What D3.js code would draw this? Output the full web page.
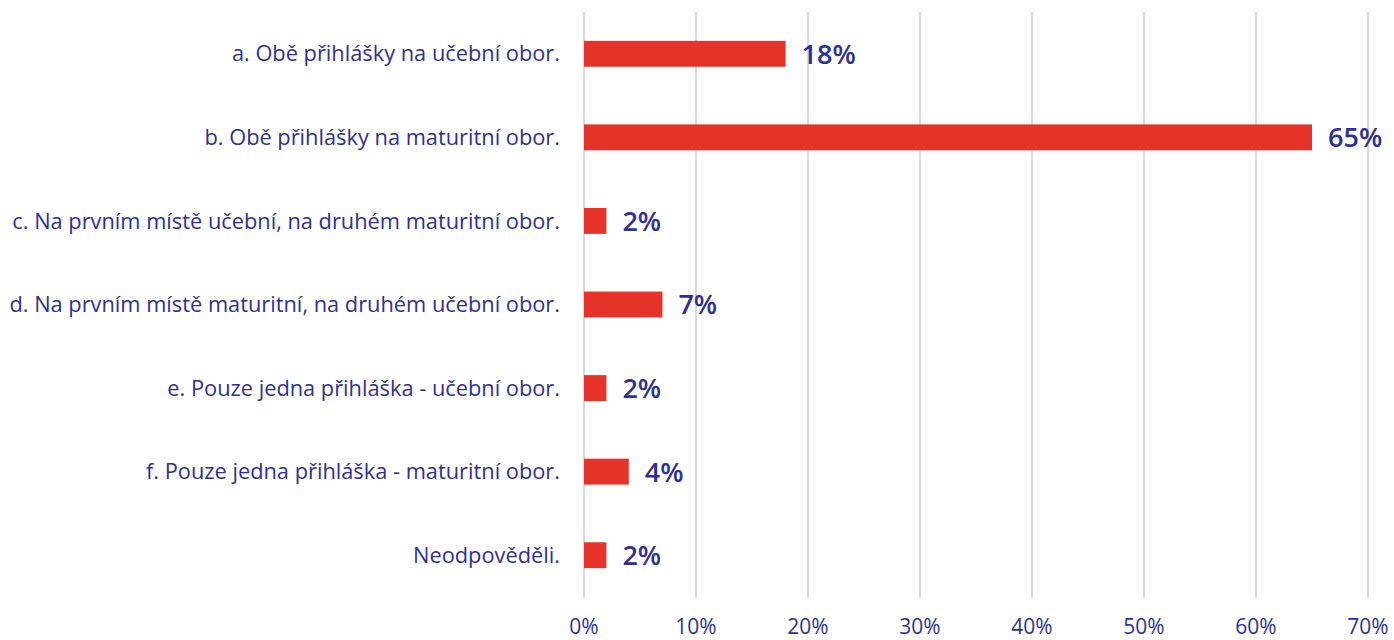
<!DOCTYPE html>
<html>
<head>
<meta charset="utf-8">
<script src="https://cdn.jsdelivr.net/npm/d3@7"></script>
<style>
  body { margin: 0; background: #fff; }
  text { font-family: "Open Sans", "Noto Sans", sans-serif; fill: #2e3192; }
</style>
</head>
<body>
<div id="chart"></div>
<script>
// data
var categories = [
  "a. Obě přihlášky na učební obor.",
  "b. Obě přihlášky na maturitní obor.",
  "c. Na prvním místě učební, na druhém maturitní obor.",
  "d. Na prvním místě maturitní, na druhém učební obor.",
  "e. Pouze jedna přihláška - učební obor.",
  "f. Pouze jedna přihláška - maturitní obor.",
  "Neodpověděli."
];
var values = [18, 65, 2, 7, 2, 4, 2];
var ticks = [0, 10, 20, 30, 40, 50, 60, 70];

var width = 1394, height = 640;
var margin = { top: 12, right: 26, bottom: 43, left: 584 };

var svg = d3.select('#chart').append('svg')
    .attr('width', width)
    .attr('height', height);

var x = d3.scaleLinear()
    .domain([0, 70])
    .range([margin.left, width - margin.right]);

var y = d3.scaleBand()
    .domain(categories)
    .range([margin.top, height - margin.bottom])
    .paddingInner(0.69)
    .paddingOuter(0.345);

// gridlines
svg.append('g').selectAll('line')
    .data(ticks)
    .enter().append('line')
    .attr('x1', d => x(d)).attr('x2', d => x(d))
    .attr('y1', margin.top).attr('y2', height - margin.bottom)
    .attr('stroke', '#d9d9d9')
    .attr('stroke-width', 2);

// tick labels
svg.append('g').selectAll('text')
    .data(ticks)
    .enter().append('text')
    .attr('x', d => x(d))
    .attr('y', 634)
    .attr('text-anchor', 'middle')
    .style('font-size', '21px')
    .text(d => d + '%');

// bars
svg.append('g').selectAll('rect')
    .data(values)
    .enter().append('rect')
    .attr('x', x(0))
    .attr('y', (d, i) => y(categories[i]))
    .attr('width', d => x(d) - x(0))
    .attr('height', y.bandwidth())
    .attr('fill', '#e5332a');

// category labels
svg.append('g').selectAll('text')
    .data(categories)
    .enter().append('text')
    .attr('x', 560)
    .attr('y', d => y(d) + y.bandwidth() / 2)
    .attr('dy', '0.35em')
    .attr('text-anchor', 'end')
    .style('font-size', '21.8px')
    .text(d => d);

// value labels
svg.append('g').selectAll('text')
    .data(values)
    .enter().append('text')
    .attr('x', d => x(d) + 16)
    .attr('y', (d, i) => y(categories[i]) + y.bandwidth() / 2)
    .attr('dy', '0.37em')
    .style('font-size', '27px')
    .style('font-weight', '600')
    .text(d => d + '%');
</script>
</body>
</html>
